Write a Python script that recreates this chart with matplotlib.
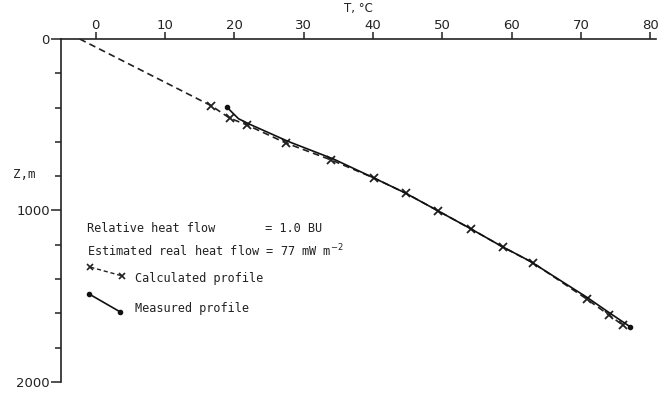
import numpy as np
import matplotlib.pyplot as plt

# calculated profile (dashed, x markers)
calc_T = [-2.3, 16.7, 19.3, 21.8, 27.4, 34.0, 40.1, 44.7, 49.4, 54.1, 58.7, 63.1, 70.8, 74.0, 76.0]
calc_Z = [0, 390, 461, 501, 606, 706, 810, 899, 1003, 1107, 1213, 1306, 1516, 1609, 1668]
calc_marks = list(range(1, len(calc_T)))

# measured profile (solid, dots at ends)
meas_T = [18.9, 19.6, 20.6, 22.2, 27.8, 34.3, 40.1, 44.7, 49.4, 54.1, 58.5, 62.6, 66.5, 70.9, 74.2, 77.1]
meas_Z = [396, 425, 465, 497, 598, 700, 810, 899, 1003, 1107, 1208, 1295, 1395, 1508, 1600, 1679]

xticks = [0, 10, 20, 30, 40, 50, 60, 70, 80]
yticks = [0, 1000, 2000]
yminor = [200, 400, 600, 800, 1200, 1400, 1600, 1800]

fig = plt.figure(figsize=(6.69, 3.94), dpi=100)
ax = fig.add_axes([0.0912, 0.0305, 0.8894, 0.8705])

ax.plot(calc_T, calc_Z, color='#222222', lw=1.2, ls=(0, (4, 2.5)),
        marker='x', ms=6, mew=1.3, markevery=calc_marks)
ax.plot(meas_T, meas_Z, color='#111111', lw=1.2, marker='o', ms=3,
        markevery=[0, len(meas_T) - 1])

ax.set_xlim(-5, 80.8)
ax.set_ylim(2000, 0)
ax.xaxis.tick_top()
ax.set_xticks(xticks)
ax.set_yticks(yticks)
ax.set_yticks(yminor, minor=True)
ax.tick_params(axis='x', direction='out', length=5, width=1.1, labelsize=9.5, pad=0, colors='#222222')
ax.tick_params(axis='y', which='major', direction='out', length=7, width=1.1, labelsize=9.5, pad=1, colors='#222222')
ax.tick_params(axis='y', which='minor', direction='out', length=4, width=1.1, colors='#222222')
for s in ['right', 'bottom']:
    ax.spines[s].set_visible(False)
for s in ['top', 'left']:
    ax.spines[s].set_linewidth(1.2)
    ax.spines[s].set_color('#222222')

fig.text(0.514, 0.995, 'T, °C', fontsize=8.5, ha='left', va='top', color='#222222')
fig.text(0.02, 0.556, 'Z,m', fontsize=9, ha='left', va='center', color='#222222',
         family='DejaVu Sans Mono')

mono = dict(family='DejaVu Sans Mono', fontsize=8.6, color='#222222', va='center', ha='left')
fig.text(0.13, 0.421, 'Relative heat flow       = 1.0 BU', **mono)
fig.text(0.13, 0.362, 'Estimated real heat flow = 77 mW m$^{-2}$', **mono)
fig.text(0.202, 0.292, 'Calculated profile', **mono)
fig.text(0.202, 0.218, 'Measured profile', **mono)

# legend samples
fig.add_artist(plt.Line2D([0.135, 0.182], [0.322, 0.300], color='#222222', lw=1.0,
                          ls=(0, (3, 2)), marker='x', ms=5, mew=1.2))
fig.add_artist(plt.Line2D([0.133, 0.180], [0.254, 0.208], color='#111111', lw=1.2,
                          marker='o', ms=3))

fig.savefig('out.png', dpi=100)
